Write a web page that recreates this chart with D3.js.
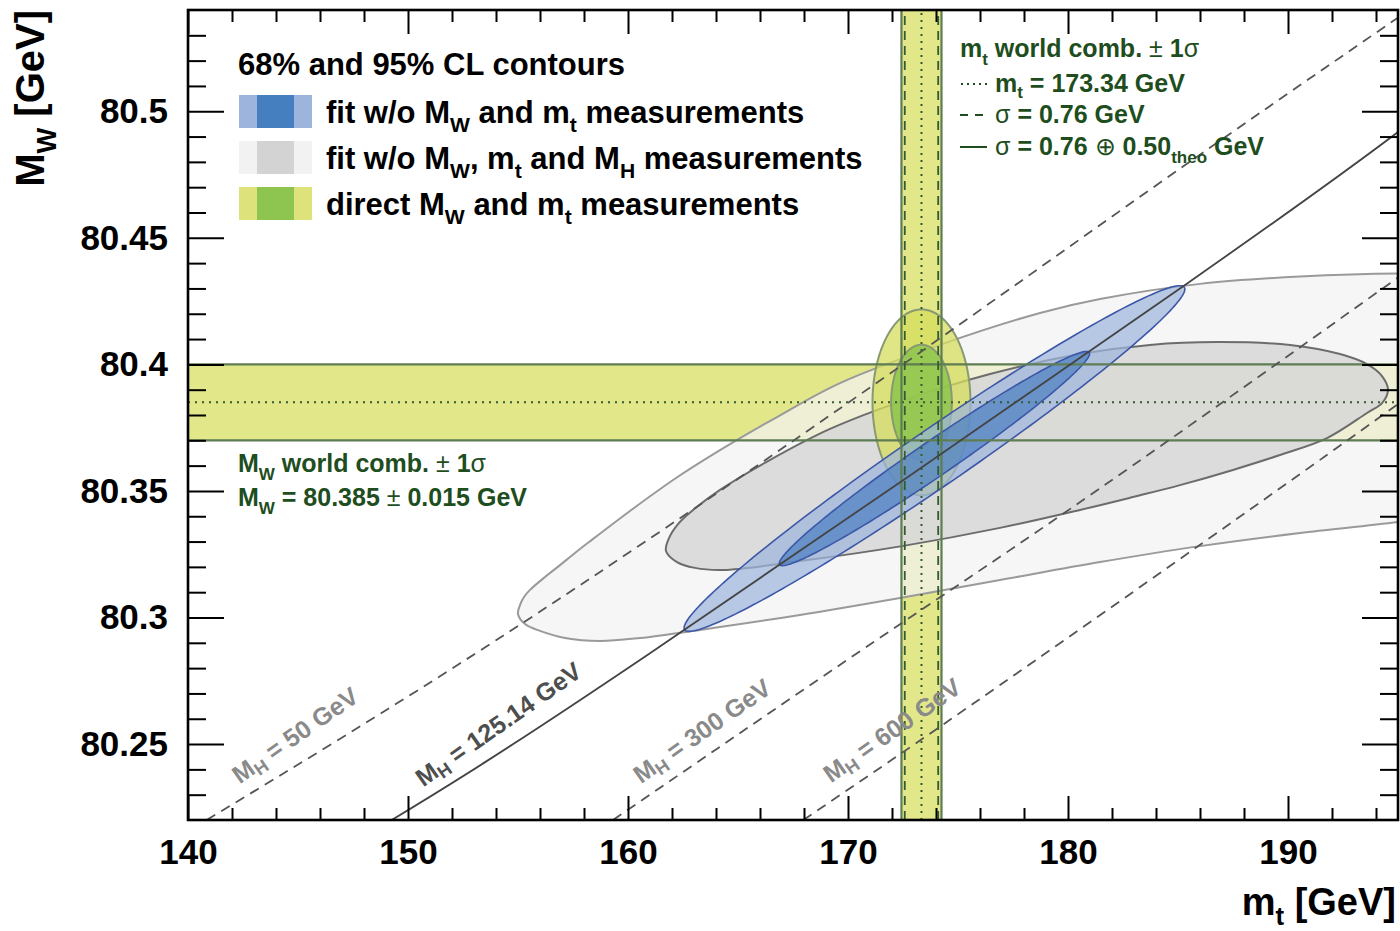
<!DOCTYPE html>
<html><head><meta charset="utf-8">
<script src="https://cdn.jsdelivr.net/npm/d3@7"></script>
<style>
html,body{margin:0;padding:0;background:#fff;}
svg{display:block;}
text{font-family:"Liberation Sans",Arial,Helvetica,sans-serif;font-weight:bold;white-space:pre;}
</style></head><body>
<svg id="chart" width="1400" height="931"></svg>
<script>
// ---- axis ticks ----
const mtMajorTicks = [140, 150, 160, 170, 180, 190];
const mtMajorLabels = ["140", "150", "160", "170", "180", "190"];
const mtMinorTicks = [142,144,146,148,152,154,156,158,162,164,166,168,172,174,176,178,182,184,186,188,192,194];
const mwMajorTicks = [80.25, 80.3, 80.35, 80.4, 80.45, 80.5];
const mwMajorLabels = ["80.25", "80.3", "80.35", "80.4", "80.45", "80.5"];
const mwMinorTicks = [80.23,80.24,80.26,80.27,80.28,80.29,80.31,80.32,80.33,80.34,80.36,80.37,80.38,80.39,
                      80.41,80.42,80.43,80.44,80.46,80.47,80.48,80.49,80.51,80.52,80.53];

// ---- world averages ----
const mtWorld = 173.34, mtErrExp = 0.76, mtErrTheo = 0.50;
const mtErrTot = Math.sqrt(mtErrExp * mtErrExp + mtErrTheo * mtErrTheo);
const mwWorld = 80.385, mwErr = 0.015;

// ---- Gaussian contours: centre, widths, correlation ----
const fitNoMwMt = { mt: 173.93, mw: 80.3628, smt: 4.65, smw: 0.0279, rho: 0.98 };
const directMeas = { mt: mtWorld, mw: mwWorld, smt: mtErrTot, smw: mwErr, rho: 0 };
const clDeltaChi2 = [5.99, 2.30];   // 95% and 68% CL for two parameters

// ---- fit without MW, mt and MH: contour outlines (mt, MW) ----
const gray95Mt = [155.0,155.091,155.273,155.545,156.227,156.909,157.591,158.227,160.091,162.318,164.636,166.773,169.636,174.182,178.727,181.455,186.0,190.545,195.0,
                  198.727,201.909,204.182,205.545,205.909,205.318,203.727,201.455,198.727,195.0,190.545,186.0,181.455,176.909,172.364,167.818,163.273,
                  160.545,158.727,157.136,156.0,155.318];
const gray95Mw = [80.3014,80.3049,80.3081,80.3109,80.3160,80.3207,80.3255,80.3298,80.3421,80.3559,80.3685,80.3792,80.3926,80.4077,80.4203,80.4258,80.4318,80.4347,80.4359,
                  80.4353,80.4310,80.4223,80.4077,80.3899,80.3721,80.3583,80.3484,80.3425,80.3377,80.3334,80.3282,80.3219,80.3148,80.3077,80.3010,80.2951,
                  80.2919,80.2907,80.2919,80.2947,80.2974];
const gray68Mt = [161.727,161.864,162.273,162.909,164.182,166.364,169.182,172.455,176.455,180.545,183.727,186.773,190.091,192.364,193.591,194.273,194.545,
                  194.273,193.591,191.773,189.636,187.5,185.091,182.955,180.545,176.909,172.455,167.818,164.318,163.045,162.227];
const gray68Mw = [80.3263,80.3314,80.3369,80.3421,80.3504,80.3618,80.3745,80.3855,80.3962,80.4041,80.4077,80.4088,80.4077,80.4041,80.4001,80.3954,80.3899,
                  80.3847,80.3808,80.3709,80.3642,80.3583,80.3523,80.3476,80.3425,80.3354,80.3282,80.3223,80.3188,80.3196,80.3219];

// ---- SM prediction for fixed MH (mt, MW) ----
const mh50Mt  = [140.85, 154.0, 169.7, 183.4, 195.0];
const mh50Mw  = [80.220, 80.291, 80.383, 80.467, 80.537];
const mh125Mt = [149.26, 161.0, 185.32, 195.0];
const mh125Mw = [80.220, 80.2859, 80.4314, 80.4918];
const mh300Mt = [159.32, 171.30, 181.45, 195.0];
const mh300Mw = [80.220, 80.2911, 80.3510, 80.4343];
const mh600Mt = [167.97, 176.91, 188.88, 195.0];
const mh600Mw = [80.220, 80.2733, 80.3464, 80.3843];
// label centres (mt, MW)
const mhLabelMt = [144.86, 154.10, 163.35, 171.99];
const mhLabelMw = [80.2536, 80.2579, 80.2553, 80.2556];

const svg = d3.select("#chart");
const x = d3.scaleLinear().domain([140, 195]).range([188, 1398]);
const y = d3.scaleLinear().domain([80.22, 80.54]).range([820, 10]);

const COL = {
  band: "#e2e78a", bandEdge: "#5e7d52", bandLine: "#345a32",
  gray95: "#f2f2f2", gray95Edge: "#9a9a9a", gray68: "#d6d6d6", gray68Edge: "#6c6c6c",
  green95: "#d6de5c", green68: "#8cc44c", greenEdge: "#879a72",
  blue95: "#9db5dd", blue68: "#4a7fc1", blueEdge: "#3d57a8",
  text: "#1e4d20"
};

svg.append("defs").append("clipPath").attr("id", "plotClip")
  .append("rect").attr("x", x(140)).attr("y", y(80.54))
  .attr("width", x(195) - x(140)).attr("height", y(80.22) - y(80.54));

const plot = svg.append("g").attr("clip-path", "url(#plotClip)");

// bands of the world averages
plot.append("rect").attr("x", x(140)).attr("width", x(195) - x(140))
  .attr("y", y(mwWorld + mwErr)).attr("height", y(mwWorld - mwErr) - y(mwWorld + mwErr))
  .attr("fill", COL.band);
plot.append("rect").attr("x", x(mtWorld - mtErrTot)).attr("width", x(mtWorld + mtErrTot) - x(mtWorld - mtErrTot))
  .attr("y", y(80.54)).attr("height", y(80.22) - y(80.54))
  .attr("fill", COL.band);

// free-form contours
const smooth = d3.line().x(d => x(d[0])).y(d => y(d[1])).curve(d3.curveCatmullRomClosed.alpha(0.5));
plot.append("path").datum(d3.zip(gray95Mt, gray95Mw)).attr("d", smooth)
  .attr("fill", COL.gray95).attr("fill-opacity", 0.72).attr("stroke", COL.gray95Edge).attr("stroke-width", 2);
plot.append("path").datum(d3.zip(gray68Mt, gray68Mw)).attr("d", smooth)
  .attr("fill", COL.gray68).attr("fill-opacity", 0.82).attr("stroke", COL.gray68Edge).attr("stroke-width", 2);

// Gaussian ellipses
function ellipse(p, k) {
  const r = Math.sqrt(k), s = Math.sqrt(1 - p.rho * p.rho);
  return d3.range(240).map(i => {
    const t = 2 * Math.PI * i / 240;
    return [p.mt + r * p.smt * Math.cos(t), p.mw + r * p.smw * (p.rho * Math.cos(t) + s * Math.sin(t))];
  });
}
const closed = d3.line().x(d => x(d[0])).y(d => y(d[1])).curve(d3.curveLinearClosed);

plot.append("path").attr("d", closed(ellipse(directMeas, clDeltaChi2[0])))
  .attr("fill", COL.green95).attr("fill-opacity", 0.75).attr("stroke", COL.greenEdge).attr("stroke-width", 2);
plot.append("path").attr("d", closed(ellipse(directMeas, clDeltaChi2[1])))
  .attr("fill", COL.green68).attr("fill-opacity", 0.85).attr("stroke", COL.greenEdge).attr("stroke-width", 2);

plot.append("path").attr("d", closed(ellipse(fitNoMwMt, clDeltaChi2[0])))
  .attr("fill", COL.blue95).attr("fill-opacity", 0.72).attr("stroke", COL.blueEdge).attr("stroke-width", 1.6);
plot.append("path").attr("d", closed(ellipse(fitNoMwMt, clDeltaChi2[1])))
  .attr("fill", COL.blue68).attr("fill-opacity", 0.7).attr("stroke", COL.blueEdge).attr("stroke-width", 1.6);

// band edges and central values
function hline(v, stroke, dash, w) {
  plot.append("line").attr("x1", x(140)).attr("x2", x(195)).attr("y1", y(v)).attr("y2", y(v))
    .attr("stroke", stroke).attr("stroke-width", w).attr("stroke-dasharray", dash);
}
function vline(v, stroke, dash, w) {
  plot.append("line").attr("y1", y(80.22)).attr("y2", y(80.54)).attr("x1", x(v)).attr("x2", x(v))
    .attr("stroke", stroke).attr("stroke-width", w).attr("stroke-dasharray", dash);
}
hline(mwWorld + mwErr, COL.bandEdge, null, 2.2);
hline(mwWorld - mwErr, COL.bandEdge, null, 2.2);
hline(mwWorld, COL.bandLine, "2,5", 2);
vline(mtWorld + mtErrTot, COL.bandEdge, null, 2.2);
vline(mtWorld - mtErrTot, COL.bandEdge, null, 2.2);
vline(mtWorld + mtErrExp, COL.bandLine, "9,6", 1.8);
vline(mtWorld - mtErrExp, COL.bandLine, "9,6", 1.8);
vline(mtWorld, COL.bandLine, "2,5", 2);

// lines of constant MH
const curve = d3.line().x(d => x(d[0])).y(d => y(d[1])).curve(d3.curveNatural);
[[mh50Mt, mh50Mw, "10,7"], [mh125Mt, mh125Mw, null], [mh300Mt, mh300Mw, "10,7"], [mh600Mt, mh600Mw, "10,7"]]
  .forEach(([a, b, dash]) => {
    plot.append("path").datum(d3.zip(a, b)).attr("d", curve).attr("fill", "none")
      .attr("stroke", dash ? "#555" : "#444").attr("stroke-width", 1.8).attr("stroke-dasharray", dash);
  });

// rich text helper: parts are strings or [string, kind] with kind "sub" or "sym"
function rich(parent, px, py, parts, size, fill, anchor, subScale, subShift) {
  const ss = subScale || 0.68, sh = subShift || 0.32;
  const t = parent.append("text").attr("x", px).attr("y", py).attr("font-size", size)
    .attr("fill", fill).attr("text-anchor", anchor || "start");
  let shift = 0;
  parts.forEach(p => {
    const [str, kind] = typeof p === "string" ? [p, "n"] : p;
    const ts = t.append("tspan").text(str);
    let target = 0;
    if (kind === "sub") { ts.attr("font-size", size * ss); target = size * sh; }
    if (kind === "sym") ts.attr("font-weight", "normal");
    if (target !== shift) { ts.attr("dy", target - shift); shift = target; }
  });
  return t;
}

const mhTexts = [
  [["M", ["H", "sub"], " = 50 GeV"], "#8a8a8a"],
  [["M", ["H", "sub"], " = 125.14 GeV"], "#4e4e4e"],
  [["M", ["H", "sub"], " = 300 GeV"], "#8a8a8a"],
  [["M", ["H", "sub"], " = 600 GeV"], "#8a8a8a"]
];
mhTexts.forEach(([parts, c], i) => {
  const px = x(mhLabelMt[i]), py = y(mhLabelMw[i]);
  rich(svg, px, py, parts, 25, c, "middle", 0.72, 0.3)
    .attr("dominant-baseline", "central")
    .attr("transform", `rotate(-35,${px},${py})`);
});

// annotations of the world averages
rich(svg, 960, 57, ["m", ["t", "sub"], " world comb. ", ["\u00b1", "sym"], " 1", ["\u03c3", "sym"]], 25, COL.text);
rich(svg, 995, 91.7, ["m", ["t", "sub"], " = 173.34 GeV"], 25, COL.text, "start", 0.68, 0.26);
rich(svg, 995, 122.7, [["\u03c3", "sym"], " = 0.76 GeV"], 25, COL.text);
rich(svg, 995, 155, [["\u03c3", "sym"], " = 0.76 ", ["\u2295", "sym"], " 0.50", ["theo", "sub"], " GeV"], 25, COL.text);
svg.append("line").attr("x1", 961).attr("x2", 988).attr("y1", 84).attr("y2", 84)
  .attr("stroke", COL.text).attr("stroke-width", 2).attr("stroke-dasharray", "2,4");
svg.append("line").attr("x1", 960).attr("x2", 988).attr("y1", 115).attr("y2", 115)
  .attr("stroke", COL.text).attr("stroke-width", 2).attr("stroke-dasharray", "8,7");
svg.append("line").attr("x1", 960).attr("x2", 987).attr("y1", 147).attr("y2", 147)
  .attr("stroke", COL.text).attr("stroke-width", 2);

rich(svg, 238, 471.7, ["M", ["W", "sub"], " world comb. ", ["\u00b1", "sym"], " 1", ["\u03c3", "sym"]], 25, COL.text);
rich(svg, 238, 505.7, ["M", ["W", "sub"], " = 80.385 ", ["\u00b1", "sym"], " 0.015 GeV"], 25, COL.text);

// legend
const legend = svg.append("g");
rich(legend, 238, 75, ["68% and 95% CL contours"], 31, "#000");
const legendRows = [
  { outer: "#9db5dd", inner: "#467fc0", parts: ["fit w/o M", ["W", "sub"], " and m", ["t", "sub"], " measurements"] },
  { outer: "#f2f2f2", inner: "#d3d3d3", parts: ["fit w/o M", ["W", "sub"], ", m", ["t", "sub"], " and M", ["H", "sub"], " measurements"] },
  { outer: "#dde37a", inner: "#8dc550", parts: ["direct M", ["W", "sub"], " and m", ["t", "sub"], " measurements"] }
];
legendRows.forEach((r, i) => {
  const top = 95 + i * 46;
  legend.append("rect").attr("x", 239).attr("y", top).attr("width", 73).attr("height", 33).attr("fill", r.outer);
  legend.append("rect").attr("x", 257).attr("y", top).attr("width", 37).attr("height", 33).attr("fill", r.inner);
  rich(legend, 326, top + 27.5, r.parts, 31, "#000");
});

// axes
function styleAxis(g) {
  g.select(".domain").remove();
  g.attr("font-size", 35).attr("font-family", null);
  g.selectAll("line").attr("stroke", "#000").attr("stroke-width", 2);
  g.selectAll("text").attr("fill", "#000");
}
svg.append("g").attr("transform", `translate(0,${y(80.22)})`)
  .call(d3.axisBottom(x).tickValues(mtMajorTicks).tickFormat((d, i) => mtMajorLabels[i])
    .tickSizeInner(-24).tickSizeOuter(0).tickPadding(19)).call(styleAxis);
svg.append("g").attr("transform", `translate(0,${y(80.22)})`)
  .call(d3.axisBottom(x).tickValues(mtMinorTicks).tickFormat("").tickSizeInner(-12).tickSizeOuter(0)).call(styleAxis);
svg.append("g").attr("transform", `translate(0,${y(80.54)})`)
  .call(d3.axisTop(x).tickValues(mtMajorTicks).tickFormat("").tickSizeInner(-24).tickSizeOuter(0)).call(styleAxis);
svg.append("g").attr("transform", `translate(0,${y(80.54)})`)
  .call(d3.axisTop(x).tickValues(mtMinorTicks).tickFormat("").tickSizeInner(-12).tickSizeOuter(0)).call(styleAxis);
svg.append("g").attr("transform", `translate(${x(140)},0)`)
  .call(d3.axisLeft(y).tickValues(mwMajorTicks).tickFormat((d, i) => mwMajorLabels[i])
    .tickSizeInner(-36).tickSizeOuter(0).tickPadding(20)).call(styleAxis);
svg.append("g").attr("transform", `translate(${x(140)},0)`)
  .call(d3.axisLeft(y).tickValues(mwMinorTicks).tickFormat("").tickSizeInner(-18).tickSizeOuter(0)).call(styleAxis);
svg.append("g").attr("transform", `translate(${x(195)},0)`)
  .call(d3.axisRight(y).tickValues(mwMajorTicks).tickFormat("").tickSizeInner(-36).tickSizeOuter(0)).call(styleAxis);
svg.append("g").attr("transform", `translate(${x(195)},0)`)
  .call(d3.axisRight(y).tickValues(mwMinorTicks).tickFormat("").tickSizeInner(-18).tickSizeOuter(0)).call(styleAxis);

svg.append("rect").attr("x", x(140)).attr("y", y(80.54)).attr("width", x(195) - x(140)).attr("height", y(80.22) - y(80.54))
  .attr("fill", "none").attr("stroke", "#000").attr("stroke-width", 2.6);

// axis titles
rich(svg, 1396, 915, ["m", ["t", "sub"], " [GeV]"], 38, "#000", "end", 0.68, 0.26);
rich(svg, 0, 0, ["M", ["W", "sub"], " [GeV]"], 40, "#000", "end", 0.68, 0.3).attr("transform", "translate(44,10) rotate(-90)");
</script>
</body></html>
